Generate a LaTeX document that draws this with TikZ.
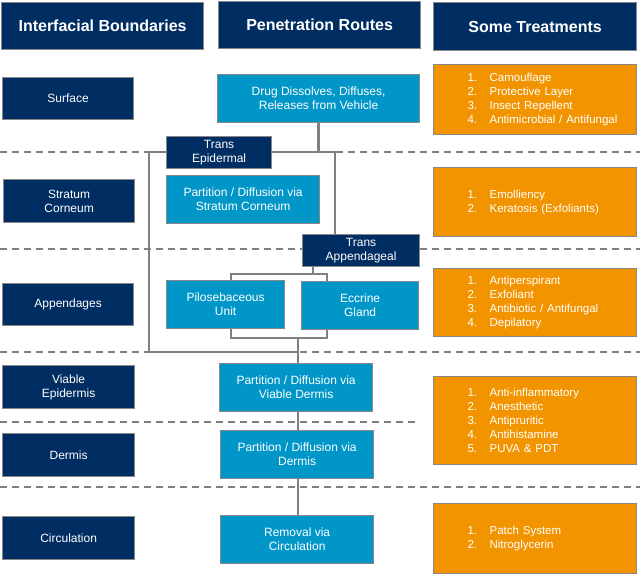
\documentclass[tikz,border=0pt]{standalone}
\usepackage{fontspec}
\setmainfont{Liberation Sans}
\usetikzlibrary{backgrounds}
\definecolor{navy}{RGB}{0,45,98}
\definecolor{lblue}{RGB}{0,150,200}
\definecolor{orng}{RGB}{242,148,0}
\definecolor{bgrey}{RGB}{135,135,135}
\definecolor{lgrey}{RGB}{128,128,128}
\tikzset{
  box/.style={draw=bgrey, line width=1.2pt, text=white, anchor=north west, inner sep=0pt, align=center, font=\fontsize{12}{14}\selectfont},
  navybox/.style={box, fill=navy},
  bluebox/.style={box, fill=lblue},
  orbox/.style={box, fill=orng, align=left, text width=203pt, font=\fontsize{11.5}{14}\selectfont},
  hdr/.style={navybox, font=\bfseries\fontsize{16}{19}\selectfont},
  conn/.style={draw=lgrey, line width=2.5pt},
  sepline/.style={draw=lgrey, line width=1.5pt, dash pattern=on 7pt off 5pt},
}
\newcommand\mybox[7]{\node[#1, minimum width={(#4)-(#2)}, minimum height={(#5)-(#3)}] (#6) at (#2,#3) {#7};}
\newcommand\itm[2]{\hspace*{34pt}\makebox[22pt][l]{#1.}#2}
\begin{document}
\begin{tikzpicture}[x=1pt,y=-1pt]
\useasboundingbox (0,0) rectangle (640,574);
% junction coordinates
\coordinate (jL) at (149,152);
\coordinate (jR) at (335,152);
\coordinate (jBL) at (149,352);
\coordinate (jB) at (298,352);
\coordinate (aM) at (313,274);
\coordinate (aL) at (231,274);
\coordinate (aR) at (327,274);
\coordinate (bL) at (231,338);
\coordinate (bR) at (327,338);
\coordinate (bM) at (298,338);
% headers
\mybox{hdr}{1}{2}{203}{49}{h1}{Interfacial Boundaries}
\mybox{hdr}{218}{1}{420}{48}{h2}{Penetration Routes}
\mybox{hdr}{433}{2}{636}{50}{h3}{Some Treatments}
% left column
\mybox{navybox}{2}{77}{133}{119}{surf}{Surface}
\mybox{navybox}{3}{179}{134}{222}{sc}{Stratum\\Corneum}
\mybox{navybox}{2}{283}{133}{325}{app}{Appendages}
\mybox{navybox}{2}{365}{134}{408}{ve}{Viable\\Epidermis}
\mybox{navybox}{2}{433}{134}{476}{der}{Dermis}
\mybox{navybox}{2}{516}{134}{559}{circ}{Circulation}
% middle column
\mybox{bluebox}{217}{74}{419}{122}{drug}{Drug Dissolves, Diffuses,\\Releases from Vehicle}
\mybox{navybox}{166}{136}{271}{168}{tepi}{Trans\\Epidermal}
\mybox{bluebox}{166}{175}{319}{223}{psc}{Partition / Diffusion via\\Stratum Corneum}
\mybox{navybox}{302}{234}{419}{266}{tapp}{Trans\\Appendageal}
\mybox{bluebox}{166}{280}{284}{328}{pilo}{Pilosebaceous\\Unit}
\mybox{bluebox}{301}{281}{418}{329}{ecc}{Eccrine\\Gland}
\mybox{bluebox}{219}{363}{372}{411}{vd}{Partition / Diffusion via\\Viable Dermis}
\mybox{bluebox}{220}{430}{373}{478}{dd}{Partition / Diffusion via\\Dermis}
\mybox{bluebox}{220}{515}{373}{563}{rem}{Removal via\\Circulation}
% right column
\mybox{orbox}{433}{64}{636}{134}{o1}{\itm{1}{Camouflage}\\\itm{2}{Protective Layer}\\\itm{3}{Insect Repellent}\\\itm{4}{Antimicrobial / Antifungal}}
\mybox{orbox}{433}{167}{636}{236}{o2}{\itm{1}{Emolliency}\\\itm{2}{Keratosis (Exfoliants)}}
\mybox{orbox}{433}{268}{636}{336}{o3}{\itm{1}{Antiperspirant}\\\itm{2}{Exfoliant}\\\itm{3}{Antibiotic / Antifungal}\\\itm{4}{Depilatory}}
\mybox{orbox}{433}{376}{636}{464}{o4}{\itm{1}{Anti-inflammatory}\\\itm{2}{Anesthetic}\\\itm{3}{Antipruritic}\\\itm{4}{Antihistamine}\\\itm{5}{PUVA \& PDT}}
\mybox{orbox}{433}{503}{636}{573}{o5}{\itm{1}{Patch System}\\\itm{2}{Nitroglycerin}}
\begin{scope}[on background layer]
% separators
\draw[sepline] (0,152) -- (640,152);
\draw[sepline] (0,249) -- (640,249);
\draw[sepline] (0,352) -- (640,352);
\draw[sepline] (0,422) -- (415,422);
\draw[sepline] (0,487) -- (640,487);
% connectors
\draw[conn] (drug.south) -- (drug.south |- jL);
\draw[conn] (jR |- tapp.north) -- (jR) -- (jL) -- (jBL) -- (jB);
\draw[conn] (aM |- tapp.south) -- (aM);
\draw[conn] (aL |- pilo.north) -- (aL) -- (aR) -- (aR |- ecc.north);
\draw[conn] (bL |- pilo.south) -- (bL) -- (bR) -- (bR |- ecc.south);
\draw[conn] (bM) -- (bM |- vd.north);
\draw[conn] (bM |- vd.south) -- (bM |- dd.north);
\draw[conn] (bM |- dd.south) -- (bM |- rem.north);
\end{scope}
\end{tikzpicture}
\end{document}
